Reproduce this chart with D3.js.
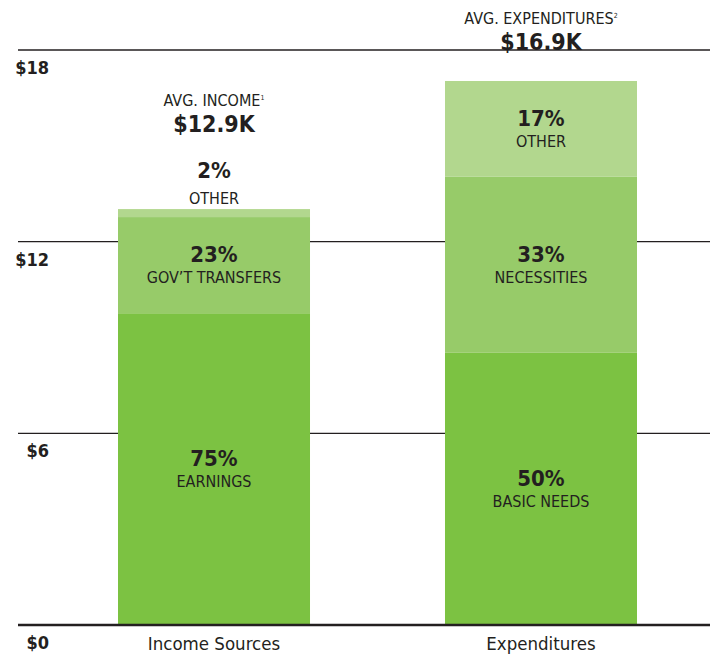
<!DOCTYPE html>
<html>
<head>
<meta charset="utf-8">
<script src="https://cdn.jsdelivr.net/npm/d3@7"></script>
<style>
  body { margin: 0; background: #fff; }
  #chart text { font-family: "DejaVu Sans Condensed", "Liberation Sans Narrow", "DejaVu Sans", sans-serif; fill: #231f20; }
</style>
</head>
<body>
<div id="chart"></div>
<script>
// chart data
const categories = ['Income Sources', 'Expenditures'];
const headerLabels = ['AVG. INCOME', 'AVG. EXPENDITURES'];
const footnotes = ['1', '2'];
const totalLabels = ['$12.9K', '$16.9K'];
const segmentNames = [
    ['EARNINGS', 'GOV\u2019T TRANSFERS', 'OTHER'],
    ['BASIC NEEDS', 'NECESSITIES', 'OTHER']
];
const segmentValues = [
    [9.76, 3.01, 0.25],
    [8.52, 5.51, 3.0]
];
const segmentShares = [
    [75, 23, 2],
    [50, 33, 17]
];
const yTicks = [0, 6, 12, 18];

const colors = ['#7cc242', '#97cb69', '#b2d78e'];

drawChart();

function drawChart() {
    const width = 710;
    const height = 654;

    const svg = d3.select('#chart')
        .append('svg')
        .attr('width', width)
        .attr('height', height);

    const y = d3.scaleLinear().domain([0, 18]).range([625, 50]);
    const x = d3.scaleBand()
        .domain(categories)
        .range([52.6, 702.4])
        .paddingInner(0.4128)
        .paddingOuter(0.2);

    // grid lines (behind bars)
    const gGrid = svg.append('g');
    gGrid.selectAll('line')
        .data(yTicks.filter(d => d > 0))
        .join('line')
        .attr('x1', 18)
        .attr('x2', width)
        .attr('y1', d => y(d))
        .attr('y2', d => y(d))
        .attr('stroke', '#231f20')
        .attr('stroke-width', 1.4);

    // stacked segments
    const rows = [];
    categories.forEach((cat, i) => {
        let acc = 0;
        segmentValues[i].forEach((v, j) => {
            rows.push({ cat: cat, i: i, j: j, y0: acc, y1: acc + v, name: segmentNames[i][j], share: segmentShares[i][j] });
            acc += v;
        });
    });

    svg.append('g').selectAll('rect')
        .data(rows)
        .join('rect')
        .attr('x', d => x(d.cat))
        .attr('width', x.bandwidth())
        .attr('y', d => y(d.y1))
        .attr('height', d => y(d.y0) - y(d.y1))
        .attr('fill', d => colors[d.j]);

    // baseline
    svg.append('line')
        .attr('x1', 18)
        .attr('x2', width)
        .attr('y1', y(0))
        .attr('y2', y(0))
        .attr('stroke', '#231f20')
        .attr('stroke-width', 2.5);

    // segment labels
    const gLab = svg.append('g').attr('text-anchor', 'middle');
    rows.forEach(d => {
        const cx = x(d.cat) + x.bandwidth() / 2;
        const small = (d.y1 - d.y0) < 1;
        let pctY, nameY;
        if (small) {
            nameY = y(d.y1) - 5;
            pctY = nameY - 26;
        } else {
            const mid = (y(d.y0) + y(d.y1)) / 2;
            pctY = mid - 3;
            nameY = mid + 18;
        }
        gLab.append('text')
            .attr('x', cx)
            .attr('y', pctY)
            .attr('font-size', 22)
            .attr('font-weight', 'bold')
            .text(d.share + '%');
        gLab.append('text')
            .attr('x', cx)
            .attr('y', nameY)
            .attr('font-size', 16)
            .text(d.name);
    });

    // totals above bars
    categories.forEach((cat, i) => {
        const cx = x(cat) + x.bandwidth() / 2;
        const top = y(d3.sum(segmentValues[i]));
        const hasOutside = segmentValues[i].some(v => v < 1);
        const shift = hasOutside ? 46 : 0;
        gLab.append('text')
            .attr('x', cx)
            .attr('y', top - 31 - shift)
            .attr('font-size', 23)
            .attr('font-weight', 'bold')
            .text(totalLabels[i]);
        const h = gLab.append('text')
            .attr('x', cx)
            .attr('y', top - 57 - shift)
            .attr('font-size', 16);
        h.append('tspan').text(headerLabels[i]);
        h.append('tspan')
            .attr('font-size', 7)
            .attr('dy', -6)
            .text(footnotes[i]);
    });

    // y tick labels
    svg.append('g').selectAll('text')
        .data(yTicks)
        .join('text')
        .attr('x', 49)
        .attr('y', d => y(d) + 24)
        .attr('text-anchor', 'end')
        .attr('font-size', 18)
        .attr('font-weight', 'bold')
        .text(d => '$' + d);

    // category labels
    svg.append('g').selectAll('text')
        .data(categories)
        .join('text')
        .attr('x', d => x(d) + x.bandwidth() / 2)
        .attr('y', 650)
        .attr('text-anchor', 'middle')
        .attr('font-size', 18.5)
        .text(d => d);
}
</script>
</body>
</html>
